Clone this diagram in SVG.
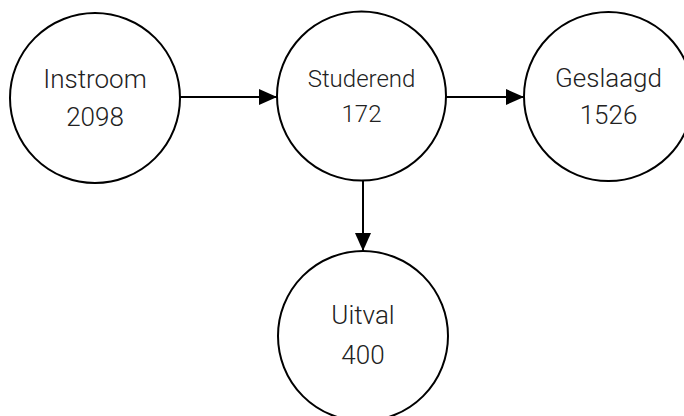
<svg xmlns="http://www.w3.org/2000/svg" width="684" height="416" viewBox="0 0 684 416">
<style>
.node circle{fill:#fff;stroke:#000;stroke-width:2}
.node text{font-family:Roboto,"Liberation Sans",sans-serif;font-weight:300;font-size:26px;fill:#222;text-anchor:middle}
.node text.sm{font-size:24px}
.edge{stroke:#000;stroke-width:2;fill:none}
</style>
<defs>
<marker id="arr" markerUnits="userSpaceOnUse" markerWidth="18" markerHeight="16" refX="18" refY="8" orient="auto">
<path d="M0,0 L18,8 L0,16 Z" fill="#000"/>
</marker>
</defs>
<g id="connectors">
<line class="edge" x1="180" y1="97" x2="277" y2="97" marker-end="url(#arr)"/>
<line class="edge" x1="446" y1="97" x2="524" y2="97" marker-end="url(#arr)"/>
<line class="edge" x1="363" y1="180" x2="363" y2="251" marker-end="url(#arr)"/>
</g>
<g id="instroom" class="node">
<circle cx="95" cy="98" r="85"/>
<text x="95" y="88">Instroom</text>
<text x="95" y="126">2098</text>
</g>
<g id="studerend" class="node">
<circle cx="361.5" cy="96" r="84.5"/>
<text class="sm" x="361.5" y="87">Studerend</text>
<text class="sm" x="361.5" y="121.5">172</text>
</g>
<g id="geslaagd" class="node">
<circle cx="608.5" cy="96.5" r="84.5"/>
<text x="608.5" y="87">Geslaagd</text>
<text x="608.5" y="124">1526</text>
</g>
<g id="uitval" class="node">
<circle cx="363" cy="336" r="85"/>
<text x="363" y="324">Uitval</text>
<text x="363" y="364">400</text>
</g>
</svg>
